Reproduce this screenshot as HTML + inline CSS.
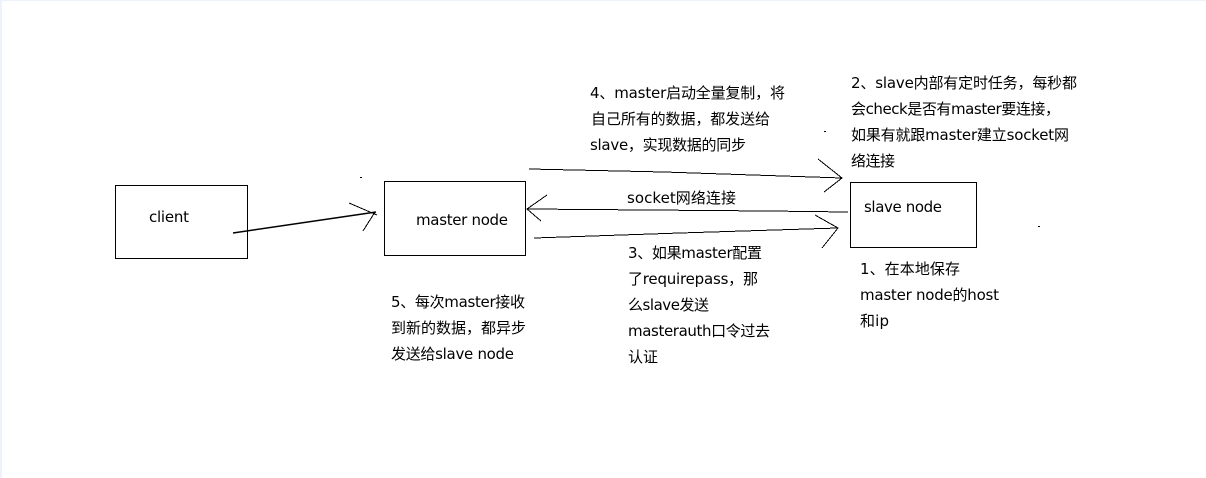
<!DOCTYPE html>
<html>
<head>
<meta charset="utf-8">
<style>
html,body{margin:0;padding:0;background:#fff;width:1206px;height:478px;overflow:hidden}
svg{display:block}
text{font-family:"DejaVu Sans","Noto Sans CJK SC",sans-serif;font-size:15px;fill:#000}
.l{stroke:#000;stroke-width:1;fill:none;shape-rendering:crispEdges}
.t{stroke:#000;stroke-width:1.5;fill:none}
.b{stroke:#000;stroke-width:1;fill:#fff;shape-rendering:crispEdges}
</style>
</head>
<body>
<svg width="1206" height="478" viewBox="0 0 1206 478" xmlns="http://www.w3.org/2000/svg">
<rect width="1206" height="478" fill="#fff"/>
<rect x="0" y="0" width="1206" height="1" fill="#eef2fb"/>
<rect x="0" y="0" width="2" height="478" fill="#eef2fb"/>

<rect class="b" x="115.500" y="185.500" width="132" height="73"/>
<rect class="b" x="384.500" y="181.500" width="141" height="74"/>
<rect class="b" x="850.500" y="182.500" width="126" height="65"/>

<polyline class="t" points="233,233 376,212"/>
<polyline class="l" points="349,203 377,215"/>
<polyline class="l" points="363,231 375,212"/>

<polyline class="l" points="529,169 664,172 842,178"/>
<polyline class="l" points="818,159 842,178 824,192"/>

<polyline class="l" points="848,212 768,211 527,209"/>
<polyline class="l" points="547,195 527,209 541,221"/>

<polyline class="l" points="534,238 680,233 838,228"/>
<polyline class="l" points="815,215 838,228 822,248"/>

<rect x="360" y="177" width="2" height="1" fill="#000"/>
<rect x="824" y="131" width="2" height="1" fill="#000"/>
<rect x="1038" y="226" width="2" height="1" fill="#000"/>

<text x="149" y="222" textLength="40">client</text>
<text x="416" y="225" textLength="92">master node</text>
<text x="864" y="212" textLength="78">slave node</text>

<text x="590" y="98" textLength="195">4、master启动全量复制，将</text>
<text x="591" y="124" textLength="179">自己所有的数据，都发送给</text>
<text x="590" y="150" textLength="156">slave，实现数据的同步</text>

<text x="851" y="88" textLength="226">2、slave内部有定时任务，每秒都</text>
<text x="851" y="114" textLength="209">会check是否有master要连接，</text>
<text x="851" y="140" textLength="218">如果有就跟master建立socket网</text>
<text x="851" y="166" textLength="44">络连接</text>

<text x="627" y="203" textLength="109">socket网络连接</text>

<text x="628" y="258" textLength="134">3、如果master配置</text>
<text x="628" y="284" textLength="130">了requirepass，那</text>
<text x="628" y="310" textLength="81">么slave发送</text>
<text x="628" y="336" textLength="142">masterauth口令过去</text>
<text x="628" y="362" textLength="30">认证</text>

<text x="391" y="307" textLength="134">5、每次master接收</text>
<text x="391" y="333" textLength="135">到新的数据，都异步</text>
<text x="391" y="359" textLength="123">发送给slave node</text>

<text x="860" y="274" textLength="100">1、在本地保存</text>
<text x="860" y="300" textLength="139">master node的host</text>
<text x="860" y="326" textLength="29">和ip</text>
</svg>
</body>
</html>
